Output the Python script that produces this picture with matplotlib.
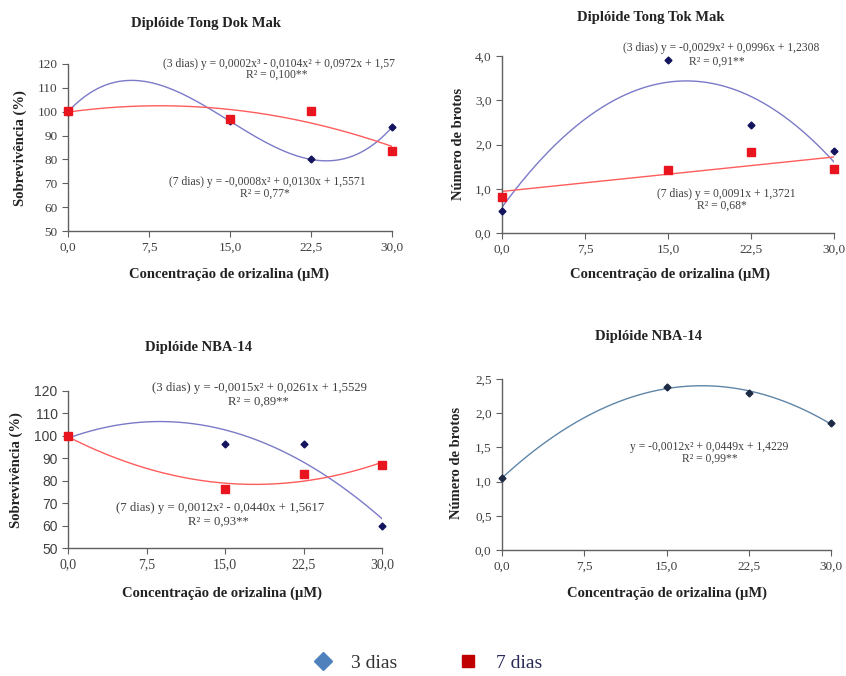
import matplotlib.pyplot as plt
import numpy as np
from matplotlib.lines import Line2D

plt.rcParams['font.family'] = ['Liberation Serif', 'DejaVu Serif']

W, H = 846, 676

# concentrations (uM)
conc = [0.0, 15.0, 22.5, 30.0]
xticks = [0.0, 7.5, 15.0, 22.5, 30.0]
xticklabels = ['0,0', '7,5', '15,0', '22,5', '30,0']

# Tong Dok Mak - survival (%)
tdm_surv_3d = [100.0, 96.0, 80.0, 93.5]
tdm_surv_7d = [100.5, 97.0, 100.5, 83.5]
# Tong Tok Mak - number of shoots
ttm_brot_3d = [0.50, 3.90, 2.43, 1.85]
ttm_brot_7d = [0.82, 1.42, 1.82, 1.45]
# NBA-14 - survival (%)
nba_surv_3d = [100.0, 96.5, 96.5, 60.0]
nba_surv_7d = [100.0, 76.5, 83.0, 87.0]
# NBA-14 - number of shoots
nba_brot = [1.05, 2.38, 2.30, 1.85]

surv_ticks = [50, 60, 70, 80, 90, 100, 110, 120]
brot_ticks_a = [0.0, 1.0, 2.0, 3.0, 4.0]
brot_ticks_b = [0.0, 0.5, 1.0, 1.5, 2.0, 2.5]

NAVY = '#14145e'
BLUE_LINE = '#7a7ac8'
RED = '#e8141e'
RED_LINE = '#ff5c5c'
GRAY = '#404040'


def px(x, y):
    return x / W, 1 - y / H


def make_ax(left, top, right, bottom):
    l, t = px(left, top)
    r, b = px(right, bottom)
    ax = fig.add_axes([l, b, r - l, t - b])
    for s in ('top', 'right'):
        ax.spines[s].set_visible(False)
    for s in ('left', 'bottom'):
        ax.spines[s].set_color('#606060')
        ax.spines[s].set_linewidth(1.0)
    ax.tick_params(colors='#606060', labelcolor=GRAY, labelsize=9.5, length=4, direction='out')
    ax.set_xlim(0, 30)
    ax.set_xticks(xticks)
    ax.set_xticklabels(xticklabels)
    return ax


def fit_curve(ax, y, deg, color):
    coef = np.polyfit(conc, y, deg)
    xs = np.linspace(0, 30, 200)
    ax.plot(xs, np.polyval(coef, xs), color=color, lw=1.0, zorder=2)


def points(ax, y, marker, color, ms):
    ax.plot(conc, y, linestyle='none', marker=marker, color=color, ms=ms, clip_on=False, zorder=3)


def label_texts(title, tx, ty, xl, xx, xy, yl, yx, yy):
    x, y = px(tx, ty)
    fig.text(x, y, title, ha='center', va='center', fontsize=10.5, fontweight='bold', color='#222222')
    x, y = px(xx, xy)
    fig.text(x, y, xl, ha='center', va='center', fontsize=10.5, fontweight='bold', color='#222222')
    x, y = px(yx, yy)
    fig.text(x, y, yl, ha='center', va='center', rotation=90, fontsize=10.5, fontweight='bold', color='#222222')


def eq(text, x, y, size=8.4):
    fx, fy = px(x, y)
    fig.text(fx, fy, text, ha='center', va='center', fontsize=size, color=GRAY)


fig = plt.figure(figsize=(W / 100, H / 100), dpi=100)

xlab = 'Concentração de orizalina (µM)'

# panel 1
ax1 = make_ax(68, 64, 392, 231)
ax1.set_ylim(50, 120)
ax1.set_yticks(surv_ticks)
fit_curve(ax1, tdm_surv_3d, 3, BLUE_LINE)
fit_curve(ax1, tdm_surv_7d, 2, RED_LINE)
points(ax1, tdm_surv_3d, 'D', NAVY, 3.5)
points(ax1, tdm_surv_7d, 's', RED, 5.5)
label_texts('Diplóide Tong Dok Mak', 206, 24, xlab, 229, 274, 'Sobrevivência (%)', 20, 148)
eq('(3 dias) y = 0,0002x³ - 0,0104x² + 0,0972x + 1,57', 279, 64)
eq('R² = 0,100**', 277, 75)
eq('(7 dias) y = -0,0008x² + 0,0130x + 1,5571', 267, 182)
eq('R² = 0,77*', 265, 194)

# panel 2
ax2 = make_ax(502, 56, 834, 233)
ax2.set_ylim(0, 4)
ax2.set_yticks(brot_ticks_a)
ax2.set_yticklabels(['0,0', '1,0', '2,0', '3,0', '4,0'])
fit_curve(ax2, ttm_brot_3d, 2, BLUE_LINE)
fit_curve(ax2, ttm_brot_7d, 1, RED_LINE)
points(ax2, ttm_brot_3d, 'D', NAVY, 3.5)
points(ax2, ttm_brot_7d, 's', RED, 5.5)
label_texts('Diplóide Tong Tok Mak', 651, 18, xlab, 670, 274, 'Número de brotos', 459, 144)
eq('(3 dias) y = -0,0029x² + 0,0996x + 1,2308', 721, 48)
eq('R² = 0,91**', 717, 62)
eq('(7 dias) y = 0,0091x + 1,3721', 726, 194)
eq('R² = 0,68*', 722, 206)

# panel 3
ax3 = make_ax(68, 391, 382, 548)
ax3.set_ylim(50, 120)
ax3.set_yticks(surv_ticks)
ax3.tick_params(labelsize=10)
for lab in ax3.get_yticklabels():
    lab.set_family('Liberation Sans')
fit_curve(ax3, nba_surv_3d, 2, BLUE_LINE)
fit_curve(ax3, nba_surv_7d, 2, RED_LINE)
points(ax3, nba_surv_3d, 'D', NAVY, 3.5)
points(ax3, nba_surv_7d, 's', RED, 5.5)
label_texts('Diplóide NBA-14', 198, 348, xlab, 222, 593, 'Sobrevivência (%)', 16, 470)
eq('(3 dias) y = -0,0015x² + 0,0261x + 1,5529', 259, 388, 9.2)
eq('R² = 0,89**', 258, 402, 9.2)
eq('(7 dias) y = 0,0012x² - 0,0440x + 1,5617', 220, 508, 9.2)
eq('R² = 0,93**', 218, 522, 9.2)

# panel 4
ax4 = make_ax(502, 379, 831, 550)
ax4.set_ylim(0, 2.5)
ax4.set_yticks(brot_ticks_b)
ax4.set_yticklabels(['0,0', '0,5', '1,0', '1,5', '2,0', '2,5'])
fit_curve(ax4, nba_brot, 2, '#5f86a8')
points(ax4, nba_brot, 'D', '#1c2a44', 3.5)
label_texts('Diplóide NBA-14', 648, 337, xlab, 667, 593, 'Número de brotos', 457, 463)
eq('y = -0,0012x² + 0,0449x + 1,4229', 709, 447)
eq('R² = 0,99**', 710, 459)

handles = [
    Line2D([], [], linestyle='none', marker='D', color='#4f81bd', ms=9.5),
    Line2D([], [], linestyle='none', marker='s', color='#c00000', ms=9),
]
lx, ly = px(423, 663)
fig.legend(handles, ['3 dias', '7 dias'], loc='center', bbox_to_anchor=(lx, ly), ncol=2,
           frameon=False, fontsize=14, handletextpad=0.45, columnspacing=2.6, labelcolor=['#333333', '#2a2a5a'])

fig.savefig('out.png', dpi=100)
